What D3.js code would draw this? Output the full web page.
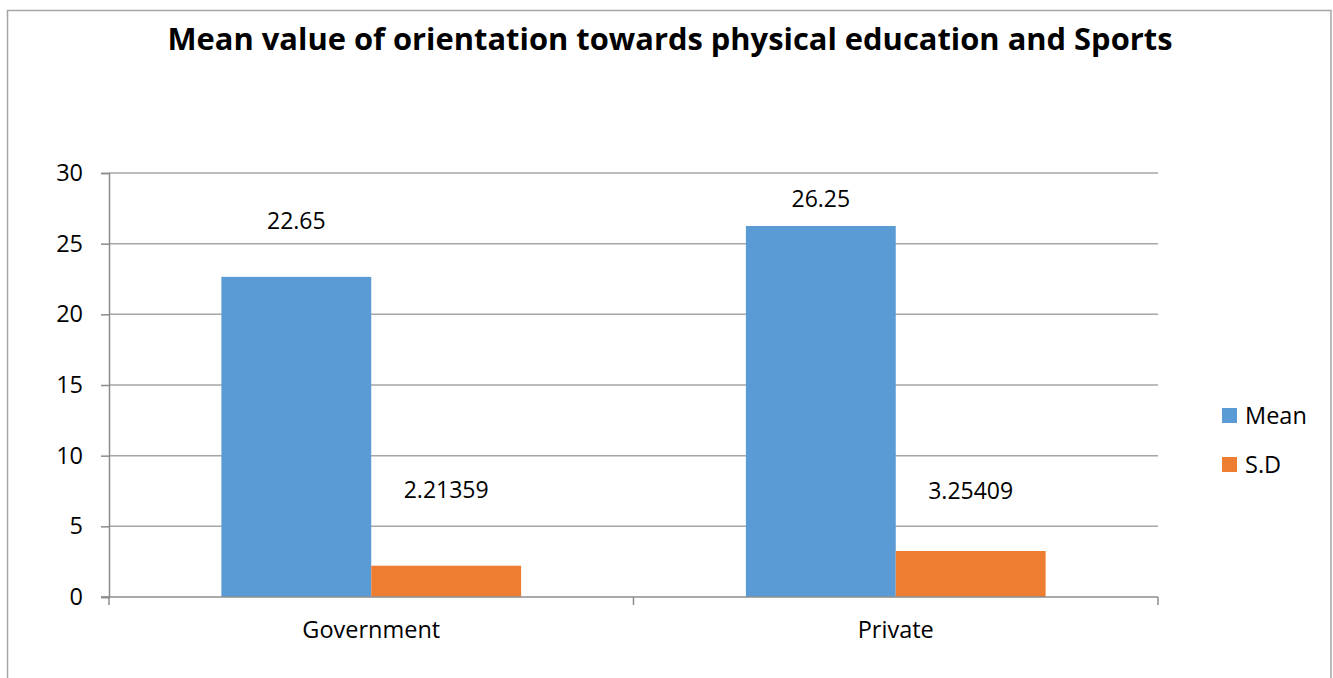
<!DOCTYPE html>
<html lang="en">
<head>
  <meta charset="UTF-8">
  <title>Mean value of orientation towards physical education and Sports</title>
  <script src="https://cdn.jsdelivr.net/npm/d3@7/dist/d3.min.js"></script>
  <style>
    html, body { margin: 0; padding: 0; background: #fff; }
    svg { display: block; font-family: "Open Sans", "Noto Sans", sans-serif; }
  </style>
</head>
<body>
<div class="chart"></div>
<script>
  const categories = ["Government", "Private"];
  const seriesNames = ["Mean", "S.D"];
  const meanValues = [22.65, 26.25];
  const sdValues = [2.21359, 3.25409];
  const meanLabels = ["22.65", "26.25"];
  const sdLabels = ["2.21359", "3.25409"];
  const yTicks = [0, 5, 10, 15, 20, 25, 30];
  const colors = ["#5B9BD5", "#ED7D31"];

  const width = 1333,
    height = 678;
  const plot = { left: 109, right: 1158, top: 173, bottom: 597 };
  const axisFont = 23.5;

  const svg = d3.select(".chart")
    .append("svg")
    .attr("width", width)
    .attr("height", height);

  // chart frame
  svg.append("rect")
    .attr("x", 7.5)
    .attr("y", 10.5)
    .attr("width", 1323.5)
    .attr("height", 700)
    .attr("fill", "none")
    .attr("stroke", "#a6a6a6")
    .attr("stroke-width", 1.5);

  svg.append("text")
    .attr("x", 670)
    .attr("y", 50)
    .attr("text-anchor", "middle")
    .attr("font-weight", 700)
    .attr("font-size", 31)
    .attr("fill", "#000")
    .attr("textLength", 1005)
    .attr("lengthAdjust", "spacingAndGlyphs")
    .text("Mean value of orientation towards physical education and Sports");

  const y = d3.scaleLinear().domain([0, 30]).range([plot.bottom, plot.top]);
  const x0 = d3.scaleBand()
    .domain(categories)
    .range([plot.left, plot.right])
    .paddingInner(3 / 7)
    .paddingOuter(3 / 14);
  const x1 = d3.scaleBand()
    .domain(seriesNames)
    .range([0, x0.bandwidth()]);

  // gridlines
  svg.append("g")
    .selectAll("line")
    .data(yTicks.filter(d => d > 0))
    .enter()
    .append("line")
    .attr("x1", plot.left)
    .attr("x2", plot.right)
    .attr("y1", d => y(d))
    .attr("y2", d => y(d))
    .attr("stroke", "#a6a6a6")
    .attr("stroke-width", 1.5);

  // y axis
  const yAxis = d3.axisLeft(y).tickValues(yTicks).tickSize(8).tickPadding(18);
  const gy = svg.append("g")
    .attr("transform", `translate(${plot.left}, 0)`)
    .call(yAxis);
  gy.select(".domain").attr("stroke", "#8c8c8c").attr("stroke-width", 1.5);
  gy.selectAll(".tick line").attr("stroke", "#8c8c8c").attr("stroke-width", 1.5);
  gy.selectAll(".tick text")
    .attr("font-size", axisFont)
    .attr("font-family", "Open Sans, sans-serif")
    .attr("fill", "#000");

  const rows = categories.map((c, i) => ({
    category: c,
    values: [meanValues[i], sdValues[i]],
    labels: [meanLabels[i], sdLabels[i]]
  }));

  // bars
  const groups = svg.append("g")
    .selectAll("g")
    .data(rows)
    .enter()
    .append("g")
    .attr("transform", d => `translate(${x0(d.category)}, 0)`);

  groups.selectAll("rect")
    .data(d => d.values.map((v, j) => ({ name: seriesNames[j], value: v, j })))
    .enter()
    .append("rect")
    .attr("x", d => x1(d.name))
    .attr("y", d => y(d.value))
    .attr("width", x1.bandwidth())
    .attr("height", d => y(0) - y(d.value))
    .attr("fill", d => colors[d.j]);

  // data labels were dragged by hand in the original, anchor them in axis units
  const labelAt = [[26.05, 7.0], [27.6, 6.95]];
  groups.each(function (d, i) {
    d3.select(this).selectAll("text.value")
      .data(d.labels)
      .enter()
      .append("text")
      .attr("class", "value")
      .attr("x", (t, j) => x1(seriesNames[j]) + x1.bandwidth() / 2)
      .attr("y", (t, j) => y(labelAt[i][j]))
      .attr("text-anchor", "middle")
      .attr("font-size", 23)
      .attr("fill", "#000")
      .text(t => t);
  });

  // x axis
  const xAxis = d3.axisBottom(x0).tickSize(0).tickPadding(24);
  const gx = svg.append("g")
    .attr("transform", `translate(0, ${plot.bottom})`)
    .call(xAxis);
  gx.select(".domain").remove();
  gx.selectAll(".tick text")
    .attr("font-size", axisFont)
    .attr("font-family", "Open Sans, sans-serif")
    .attr("fill", "#000");

  svg.append("line")
    .attr("x1", plot.left - 8)
    .attr("x2", plot.right)
    .attr("y1", plot.bottom)
    .attr("y2", plot.bottom)
    .attr("stroke", "#8c8c8c")
    .attr("stroke-width", 1.5);

  // category boundary ticks
  svg.append("g")
    .selectAll("line")
    .data(categories.map((c, i) => i === 0 ? plot.left : x0(c) - x0.step() * x0.paddingInner() / 2).concat([plot.right]))
    .enter()
    .append("line")
    .attr("x1", d => d)
    .attr("x2", d => d)
    .attr("y1", plot.bottom)
    .attr("y2", plot.bottom + 8)
    .attr("stroke", "#8c8c8c")
    .attr("stroke-width", 1.5);

  // legend
  const legend = svg.append("g")
    .selectAll("g")
    .data(seriesNames)
    .enter()
    .append("g")
    .attr("transform", (d, i) => `translate(1222, ${408 + i * 49})`);

  legend.append("rect")
    .attr("width", 15)
    .attr("height", 15)
    .attr("fill", (d, i) => colors[i]);

  legend.append("text")
    .attr("x", 23)
    .attr("y", 16)
    .attr("font-size", axisFont)
    .attr("fill", "#000")
    .text(d => d);
</script>
</body>
</html>
